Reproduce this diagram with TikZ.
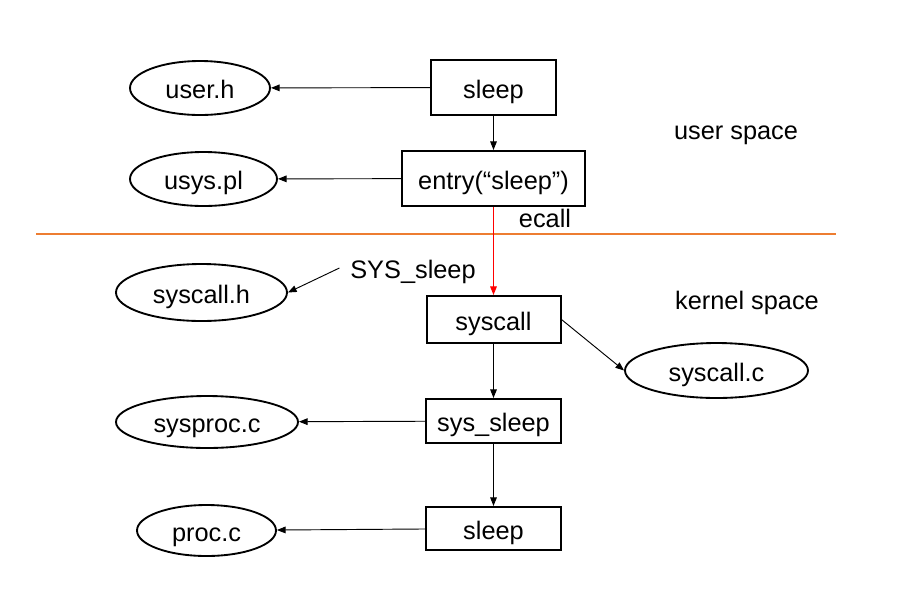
\documentclass[tikz,border=0pt]{standalone}
\usepackage{fontspec}
\setmainfont{Liberation Sans}
\usepackage{xcolor}
\usetikzlibrary{arrows.meta,positioning,shapes.geometric}
\definecolor{Ink}{HTML}{000000}
\definecolor{Divider}{HTML}{ED7D31}
\definecolor{Trap}{HTML}{FF0000}
\tikzset{
  box/.style={draw=Ink,line width=1.5pt,minimum height=41.25pt,align=center,font=\fontsize{19}{21}\selectfont,text=Ink,inner sep=0pt,text height=16pt,text depth=0pt},
  file/.style={draw=Ink,ellipse,line width=1.4pt,minimum height=40.5pt,align=center,font=\fontsize{19}{21}\selectfont,text=Ink,inner sep=0pt,text height=16pt,text depth=0pt},
  tag/.style={font=\fontsize{19}{21}\selectfont,text=Ink,inner sep=0pt,text height=16pt,text depth=0pt},
  arr/.style={-{Triangle[length=6.5pt,width=5pt]},draw=Ink,line width=0.7pt},
  trap/.style={-{Triangle[length=6.5pt,width=5pt]},draw=Trap,line width=0.8pt}
}

\begin{document}
\begin{tikzpicture}[x=0.75pt,y=-0.75pt]
  \useasboundingbox (0,0) rectangle (918,612);
  % user space
  \node[box,minimum width=93.75pt] (usleep) at (493.5,87.5) {sleep};
  \node[box,minimum width=137.25pt] (entry) at (493.5,178.5) {entry(“sleep”)};
  \node[file,minimum width=105pt] (userh) at (200,88) {user.h};
  \node[file,minimum width=110.25pt] (usyspl) at (203.5,179) {usys.pl};
  \node[tag] (ulabel) at (736,129) {user space};
  % boundary
  \draw[Divider,line width=1.1pt] (36,234) coordinate (bl) -- (836,234) coordinate (br);
  \node[tag] (ecall) at (545,217) {ecall};
  % kernel space
  \node[box,minimum width=100.5pt,minimum height=35.25pt] (syscall) at (493.5,319.5) {syscall};
  \node[box,minimum width=101.25pt,minimum height=33pt] (syssleep) at (493.5,421) {sys\_sleep};
  \node[box,minimum width=101.25pt,minimum height=32.25pt] (ksleep) at (493.5,528.5) {sleep};
  \node[file,minimum width=128.25pt,minimum height=42.75pt] (syscallh) at (201.5,292.5) {syscall.h};
  \node[file,minimum width=137.25pt,minimum height=41.25pt] (syscallc) at (716.5,370.5) {syscall.c};
  \node[file,minimum width=136.5pt,minimum height=39pt] (sysprocc) at (207,422) {sysproc.c};
  \node[file,minimum width=104.25pt,minimum height=38.25pt] (procc) at (206.5,530.5) {proc.c};
  \node[tag,inner xsep=8pt] (sysnum) at (413,268) {SYS\_sleep};
  \node[tag] (klabel) at (747,299) {kernel space};
  % calls
  \draw[arr] (usleep) -- (userh);
  \draw[arr] (usleep) -- (entry);
  \draw[arr] (entry) -- (usyspl);
  \draw[trap] (entry) -- (syscall);
  \draw[arr] (sysnum.west) -- (syscallh.east);
  \draw[arr] (syscall.east) -- (syscallc.west);
  \draw[arr] (syscall) -- (syssleep);
  \draw[arr] (syssleep) -- (sysprocc);
  \draw[arr] (syssleep) -- (ksleep);
  \draw[arr] (ksleep) -- (procc);
\end{tikzpicture}
\end{document}
